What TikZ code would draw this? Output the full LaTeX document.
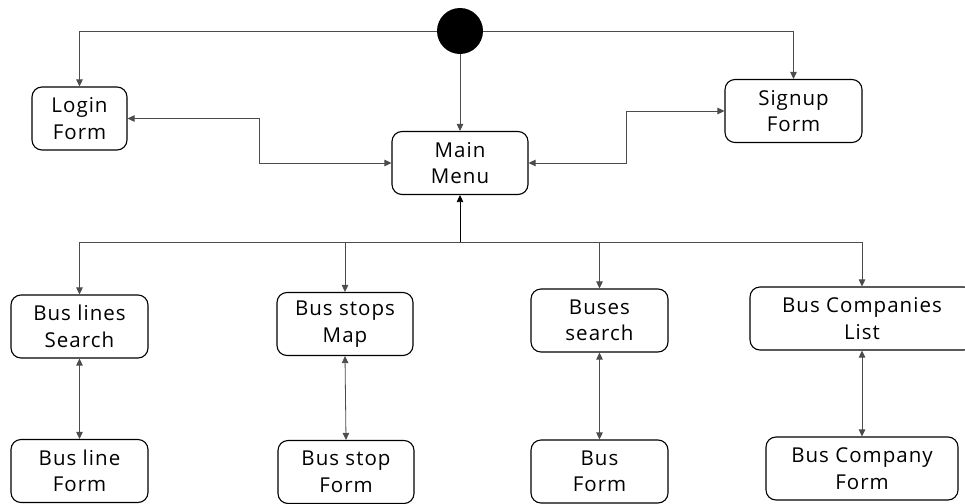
\documentclass[tikz,border=0pt]{standalone}
\usepackage{fontspec}
\setmainfont{Open Sans}[LetterSpace=5]
\usetikzlibrary{arrows.meta,calc}
\begin{document}
\begin{tikzpicture}[x=1pt,y=-1pt,
  font=\fontsize{20.5}{26.5}\selectfont,
  screen/.style={draw=black, line width=1.1pt, rounded corners=10pt,
    align=center, inner sep=0pt, minimum height=63pt},
  flow/.style={draw=black!70, line width=0.8pt,
    -{Triangle[length=7pt,width=6.5pt]}},
  both/.style={draw=black!70, line width=0.8pt,
    {Triangle[length=7pt,width=6.5pt]}-{Triangle[length=7pt,width=6.5pt]}}]
  \useasboundingbox (0,0) rectangle (965,503);

  % initial state
  \node[circle, fill=black, minimum size=46pt, inner sep=0pt] (start) at (460,31) {};

  % top level screens
  \node[screen, minimum width=95pt]  (login)  at (79.5,118.5) {Login\\Form};
  \node[screen, minimum width=136pt] (main)   at (460,163)    {Main\\Menu};
  \node[screen, minimum width=137pt] (signup) at (793.5,111)  {Signup\\Form};

  % list / search screens
  \node[screen, minimum width=137pt] (lines)     at (79.5,326.5) {Bus lines\\Search};
  \node[screen, minimum width=136pt] (stops)     at (345,324)    {Bus stops\\Map};
  \node[screen, minimum width=137pt] (buses)     at (599.5,320.5){Buses\\search};
  \node[screen, minimum width=224pt] (companies) at (862,318.5)  {Bus Companies\\List};

  % edit forms
  \node[screen, minimum width=137pt] (lineform)    at (79.5,471)  {Bus line\\Form};
  \node[screen, minimum width=136pt] (stopform)    at (346,472)   {Bus stop\\Form};
  \node[screen, minimum width=137pt] (busform)     at (599.5,471.5){Bus\\Form};
  \node[screen, minimum width=192pt] (companyform) at (862,468.5) {Bus Company\\Form};

  % transitions from the initial state
  \draw[flow] (start.west) -| (login.north);
  \draw[flow] (start.east) -| (signup.north);
  \draw[flow] (start.south) -- (main.north);

  % login / signup <-> main menu
  \draw[both] (login.east) -| ($(login.east)!0.5!(main.west)$) |- (main.west);
  \draw[both] (main.east) -| ($(main.east)!0.5!(signup.west)$) |- (signup.west);

  % main menu fan-out
  \coordinate (hub) at (460,242);
  \draw[flow, draw=black] (hub) -- (main.south);
  \draw[flow] (hub) -| (lines.north);
  \draw[flow] (hub) -| (stops.north);
  \draw[flow] (hub) -| (buses.north);
  \draw[flow] (hub) -| (companies.north);

  % list <-> form
  \draw[both] (lines.south) -- (lineform.north);
  \draw[both] (stops.south) -- (stopform.north);
  \draw[both] (buses.south) -- (busform.north);
  \draw[both] (companies.south) -- (companyform.north);
\end{tikzpicture}
\end{document}
